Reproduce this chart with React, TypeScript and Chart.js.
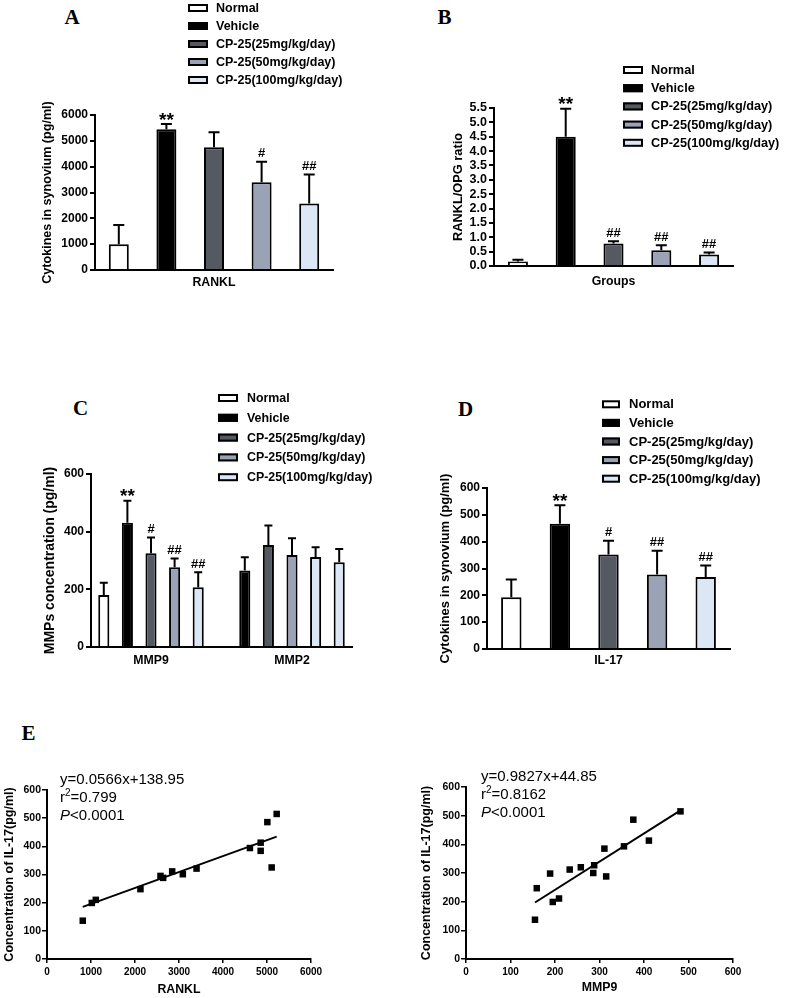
import React, { useEffect, useRef } from "react";
import { Chart, registerables } from "chart.js";

Chart.register(...registerables);

const PAGE_W = 787;
const PAGE_H = 998;
const SANS = "'Liberation Sans', Arial, Helvetica, sans-serif";
const SERIF = "'Liberation Serif', 'Times New Roman', serif";
Chart.defaults.font.family = SANS;
Chart.defaults.color = "#000";

// ---------- shared groups ----------
const groups = ["Normal", "Vehicle", "CP-25(25mg/kg/day)", "CP-25(50mg/kg/day)", "CP-25(100mg/kg/day)"];
const groupColors = ["#ffffff", "#000000", "#545962", "#9aa3b5", "#dce7f5"];

// ---------- Panel A: RANKL ----------
const ranklMean = [1000, 5450, 4750, 3400, 2570];
const ranklSD = [740, 200, 580, 790, 1130];
const ranklSig = ["", "**", "", "#", "##"];

// ---------- Panel B: RANKL/OPG ratio ----------
const ratioMean = [0.16, 4.5, 0.78, 0.55, 0.4];
const ratioSD = [0.06, 0.97, 0.08, 0.17, 0.07];
const ratioSig = ["", "**", "##", "##", "##"];

// ---------- Panel C: MMPs ----------
const mmpLabels = ["MMP9", "MMP2"];
const mmpNormal = [180, 265];
const mmpNormalSD = [43, 46];
const mmpVehicle = [431, 354];
const mmpVehicleSD = [76, 67];
const mmp25 = [325, 319];
const mmp25SD = [55, 58];
const mmp50 = [277, 312];
const mmp50SD = [30, 34];
const mmp100 = [207, 294];
const mmp100SD = [52, 46];
const mmp9Sig = ["", "**", "#", "##", "##"];
const mmp2Sig = ["", "", "", "", ""];
// fill colours per category (MMP9, MMP2) as drawn in the figure
const mmpColors = [
  ["#ffffff", "#000000"],
  ["#000000", "#545962"],
  ["#545962", "#9aa3b5"],
  ["#9aa3b5", "#dce7f5"],
  ["#dce7f5", "#dce7f5"],
];

// ---------- Panel D: IL-17 ----------
const il17Mean = [193, 467, 352, 278, 268];
const il17SD = [66, 69, 51, 88, 43];
const il17Sig = ["", "**", "#", "##", "##"];

// ---------- Panel E: correlations ----------
const eRanklX = [813, 1018, 1109, 2124, 2579, 2640, 2845, 3087, 3399, 4612, 4856, 4856, 5008, 5106, 5220];
const eRanklY = [136, 199, 210, 248, 295, 288, 311, 301, 321, 394, 413, 384, 486, 325, 515];
const eMmp9X = [155, 159, 189, 195, 209, 233, 258, 286, 288, 311, 315, 355, 376, 411, 482];
const eMmp9Y = [137, 247, 298, 199, 211, 312, 320, 300, 327, 385, 288, 393, 486, 413, 515];
const fitRanklSlope = 0.0566;
const fitRanklIntercept = 138.95;
const fitRanklR2 = "0.799";
const fitMmp9Slope = 0.9827;
const fitMmp9Intercept = 44.85;
const fitMmp9R2 = "0.8162";
const pText = "<0.0001";

// ---------- plugins ----------
function errorBarsPlugin(cap: number) {
  return {
    id: "errorBars",
    afterDatasetsDraw(chart: any) {
      const ctx = chart.ctx;
      const yScale = chart.scales.y;
      chart.data.datasets.forEach((ds: any, di: number) => {
        const meta = chart.getDatasetMeta(di);
        if (!ds.sd) return;
        meta.data.forEach((el: any, j: number) => {
          const raw = ds.data[j];
          const v = typeof raw === "object" ? raw.y : raw;
          const top = yScale.getPixelForValue(v + ds.sd[j]);
          const x = el.x;
          ctx.save();
          ctx.strokeStyle = "#000";
          ctx.lineWidth = 2;
          ctx.beginPath();
          ctx.moveTo(x, el.y);
          ctx.lineTo(x, top);
          ctx.moveTo(x - cap / 2, top);
          ctx.lineTo(x + cap / 2, top);
          ctx.stroke();
          const s = ds.sig ? ds.sig[j] : "";
          if (s) {
            const star = s.indexOf("*") >= 0;
            const size = star ? 19 : 13;
            ctx.font = `bold ${size}px ${SANS}`;
            ctx.fillStyle = "#000";
            ctx.textAlign = "center";
            ctx.textBaseline = "alphabetic";
            const m = ctx.measureText(s);
            const center = top - (star ? 8 : 9);
            const base = center + (m.actualBoundingBoxAscent - m.actualBoundingBoxDescent) / 2;
            ctx.fillText(s, x, base);
          }
          ctx.restore();
        });
      });
    },
  };
}

function legendPlugin(o: { x: number; textX: number; y0: number; dy: number; w: number; h: number; size: number }) {
  return {
    id: "boxLegend",
    afterDraw(chart: any) {
      const ctx = chart.ctx;
      ctx.save();
      ctx.font = `bold ${o.size}px ${SANS}`;
      ctx.textBaseline = "middle";
      ctx.textAlign = "left";
      chart.data.datasets.forEach((ds: any, i: number) => {
        const y = o.y0 + i * o.dy;
        const bg = Array.isArray(ds.backgroundColor) ? ds.backgroundColor[0] : ds.backgroundColor;
        ctx.fillStyle = bg;
        ctx.fillRect(o.x, y - o.h / 2, o.w, o.h);
        ctx.strokeStyle = "#000";
        ctx.lineWidth = 2;
        ctx.strokeRect(o.x + 1, y - o.h / 2 + 1, o.w - 2, o.h - 2);
        ctx.fillStyle = "#000";
        ctx.fillText(ds.label, o.textX, y + 0.5);
      });
      ctx.restore();
    },
  };
}

function yTitlePlugin(text: string, x: number, size: number) {
  return {
    id: "yTitle",
    afterDraw(chart: any) {
      const { ctx, chartArea } = chart;
      ctx.save();
      ctx.translate(x, (chartArea.top + chartArea.bottom) / 2);
      ctx.rotate(-Math.PI / 2);
      ctx.font = `bold ${size}px ${SANS}`;
      ctx.fillStyle = "#000";
      ctx.textAlign = "center";
      ctx.textBaseline = "middle";
      ctx.fillText(text, 0, 0);
      ctx.restore();
    },
  };
}

type Seg = { t: string; sup?: boolean; italic?: boolean };
function equationPlugin(lines: Seg[][], dx: number, dy0: number, lineGap: number) {
  return {
    id: "equation",
    afterDraw(chart: any) {
      const { ctx, chartArea } = chart;
      ctx.save();
      ctx.fillStyle = "#000";
      ctx.textAlign = "left";
      ctx.textBaseline = "middle";
      lines.forEach((segs, i) => {
        let x = chartArea.left + dx;
        const y = chartArea.top + dy0 + i * lineGap;
        segs.forEach((s) => {
          ctx.font = `${s.italic ? "italic " : ""}${s.sup ? 10 : 15}px ${SANS}`;
          ctx.fillText(s.t, x, s.sup ? y - 5 : y);
          x += ctx.measureText(s.t).width;
        });
      });
      ctx.restore();
    },
  };
}

// ---------- chart builders ----------
type Box = { L: number; T: number; R: number; B: number };

function yAxis(max: number, step: number, decimals: number, size: number, tickLen: number, pad: number, lw: number) {
  return {
    min: 0,
    max,
    ticks: {
      stepSize: step,
      autoSkip: false,
      color: "#000",
      font: { size, weight: "bold" },
      padding: pad,
      callback: (v: any) => Number(v).toFixed(decimals),
    },
    grid: { drawOnChartArea: false, drawTicks: true, tickLength: tickLen, color: "#000", lineWidth: lw },
    border: { display: true, color: "#000", width: 2 },
    afterFit: (s: any) => {
      s.width = 40;
    },
  };
}

function groupBarConfig(
  box: Box,
  xLabel: string,
  mean: number[],
  sd: number[],
  sig: string[],
  yMax: number,
  yStep: number,
  yDec: number,
  tickSize: number,
  xPad: number,
  yTitle: string,
  yTitleX: number,
  yTitleSize: number,
  legend: any
) {
  const yW = 40;
  const xH = 30;
  return {
    type: "bar",
    data: {
      labels: [xLabel],
      datasets: groups.map((g, i) => ({
        label: g,
        data: [mean[i]],
        sd: [sd[i]],
        sig: [sig[i]],
        backgroundColor: groupColors[i],
        borderColor: "#000",
        borderWidth: 2,
        categoryPercentage: 1,
        barPercentage: 0.42,
      })),
    },
    options: {
      responsive: false,
      animation: false,
      events: [],
      layout: { padding: { left: box.L - yW, top: box.T, right: PAGE_W - box.R, bottom: PAGE_H - box.B - xH } },
      plugins: { legend: { display: false }, tooltip: { enabled: false } },
      scales: {
        x: {
          grid: { display: false, drawTicks: false },
          border: { display: true, color: "#000", width: 2 },
          ticks: { color: "#000", font: { size: 12.3, weight: "bold" }, padding: xPad, maxRotation: 0 },
          afterFit: (s: any) => {
            s.height = xH;
          },
        },
        y: yAxis(yMax, yStep, yDec, tickSize, 5, 2, 2),
      },
    },
    plugins: [errorBarsPlugin(11), legendPlugin(legend), yTitlePlugin(yTitle, yTitleX, yTitleSize)],
  };
}

function mmpConfig() {
  const box: Box = { L: 91, T: 474, R: 352, B: 647 };
  const yW = 40;
  const xH = 30;
  const means = [mmpNormal, mmpVehicle, mmp25, mmp50, mmp100];
  const sds = [mmpNormalSD, mmpVehicleSD, mmp25SD, mmp50SD, mmp100SD];
  return {
    type: "bar",
    data: {
      datasets: groups.map((g, i) => ({
        label: g,
        data: mmpLabels.map((_, k) => ({ x: k, y: means[i][k] })),
        sd: sds[i],
        sig: [mmp9Sig[i], mmp2Sig[i]],
        backgroundColor: mmpColors[i],
        borderColor: "#000",
        borderWidth: 2,
        categoryPercentage: 0.837,
        barPercentage: 0.47,
      })),
    },
    options: {
      responsive: false,
      animation: false,
      events: [],
      layout: { padding: { left: box.L - yW, top: box.T, right: PAGE_W - box.R, bottom: PAGE_H - box.B - xH } },
      plugins: { legend: { display: false }, tooltip: { enabled: false } },
      scales: {
        x: {
          type: "linear",
          min: -0.4255,
          max: 1.4255,
          offset: false,
          afterBuildTicks: (s: any) => {
            s.ticks = mmpLabels.map((_, i) => ({ value: i }));
          },
          grid: { display: false, drawTicks: false },
          border: { display: true, color: "#000", width: 2 },
          ticks: {
            color: "#000",
            font: { size: 12.3, weight: "bold" },
            padding: 6,
            maxRotation: 0,
            autoSkip: false,
            callback: (v: any) => mmpLabels[Number(v)] ?? "",
          },
          afterFit: (s: any) => {
            s.height = xH;
          },
        },
        y: yAxis(600, 200, 0, 12, 5, 2, 2),
      },
    },
    plugins: [
      errorBarsPlugin(8),
      legendPlugin({ x: 218, textX: 247, y0: 398, dy: 19.8, w: 20, h: 8, size: 12.4 }),
      yTitlePlugin("MMPs concentration (pg/ml)", 50, 14),
    ],
  };
}

function scatterConfig(
  box: Box,
  xs: number[],
  ys: number[],
  slope: number,
  intercept: number,
  r2: string,
  xMax: number,
  xStep: number,
  xTitle: string,
  xTitleY: number,
  yTitleX: number,
  eqDx: number,
  eqDy: number
) {
  const yW = 40;
  const xH = xTitleY - box.B + 7.2;
  const minX = Math.min(...xs);
  const maxX = Math.max(...xs);
  const eq = `y=${slope}x+${intercept}`;
  return {
    type: "scatter",
    data: {
      datasets: [
        {
          label: "data",
          data: xs.map((x, i) => ({ x, y: ys[i] })),
          pointStyle: "rect",
          pointRadius: 4.6,
          backgroundColor: "#000",
          borderWidth: 0,
        },
        {
          type: "line",
          label: "fit",
          data: [
            { x: minX, y: slope * minX + intercept },
            { x: maxX, y: slope * maxX + intercept },
          ],
          borderColor: "#000",
          borderWidth: 2,
          pointRadius: 0,
          fill: false,
          showLine: true,
        },
      ],
    },
    options: {
      responsive: false,
      animation: false,
      events: [],
      layout: { padding: { left: box.L - yW, top: box.T, right: PAGE_W - box.R, bottom: PAGE_H - box.B - xH } },
      plugins: { legend: { display: false }, tooltip: { enabled: false } },
      scales: {
        x: {
          type: "linear",
          min: 0,
          max: xMax,
          ticks: {
            stepSize: xStep,
            autoSkip: false,
            color: "#000",
            font: { size: 10, weight: "bold" },
            padding: 3,
            callback: (v: any) => String(v),
          },
          grid: { drawOnChartArea: false, drawTicks: true, tickLength: 4, color: "#000", lineWidth: 1.5 },
          border: { display: true, color: "#000", width: 2 },
          title: { display: true, text: xTitle, color: "#000", font: { size: 12.3, weight: "bold" }, padding: 0 },
          afterFit: (s: any) => {
            s.height = xH;
          },
        },
        y: {
          ...yAxis(600, 100, 0, 10.5, 5, 1, 1.5),
        },
      },
    },
    plugins: [
      yTitlePlugin("Concentration of IL-17(pg/ml)", yTitleX, 12.5),
      equationPlugin(
        [[{ t: eq }], [{ t: "r" }, { t: "2", sup: true }, { t: "=" + r2 }], [{ t: "P", italic: true }, { t: pText }]],
        eqDx,
        eqDy,
        18
      ),
    ],
  };
}

const makers: (() => any)[] = [
  () =>
    groupBarConfig(
      { L: 95, T: 115, R: 333, B: 270 },
      "RANKL",
      ranklMean,
      ranklSD,
      ranklSig,
      6000,
      1000,
      0,
      12,
      5,
      "Cytokines in synovium (pg/ml)",
      48,
      12.6,
      { x: 188, textX: 216, y0: 8, dy: 18, w: 20, h: 8, size: 12.5 }
    ),
  () =>
    groupBarConfig(
      { L: 494, T: 108, R: 733, B: 266 },
      "Groups",
      ratioMean,
      ratioSD,
      ratioSig,
      5.5,
      0.5,
      1,
      12.5,
      8,
      "RANKL/OPG ratio",
      458,
      12.8,
      { x: 623, textX: 651, y0: 70, dy: 18.2, w: 20, h: 8, size: 12.7 }
    ),
  () => mmpConfig(),
  () =>
    groupBarConfig(
      { L: 487, T: 488, R: 730, B: 649 },
      "IL-17",
      il17Mean,
      il17SD,
      il17Sig,
      600,
      100,
      0,
      12,
      4,
      "Cytokines in synovium (pg/ml)",
      445,
      13.1,
      { x: 602, textX: 629, y0: 404.3, dy: 18.6, w: 18, h: 8, size: 13 }
    ),
  () =>
    scatterConfig(
      { L: 47, T: 790, R: 311, B: 959 },
      eRanklX,
      eRanklY,
      fitRanklSlope,
      fitRanklIntercept,
      fitRanklR2,
      6000,
      1000,
      "RANKL",
      990,
      10,
      13,
      -10
    ),
  () =>
    scatterConfig(
      { L: 466, T: 787, R: 733, B: 959 },
      eMmp9X,
      eMmp9Y,
      fitMmp9Slope,
      fitMmp9Intercept,
      fitMmp9R2,
      600,
      100,
      "MMP9",
      988,
      427,
      15,
      -10
    ),
];

function ChartCanvas({ make }: { make: () => any }) {
  const ref = useRef<HTMLCanvasElement>(null);
  useEffect(() => {
    if (!ref.current) return;
    const chart = new Chart(ref.current, make());
    return () => chart.destroy();
  }, []);
  return (
    <canvas
      ref={ref}
      width={PAGE_W}
      height={PAGE_H}
      style={{ position: "absolute", left: 0, top: 0, width: PAGE_W, height: PAGE_H }}
    />
  );
}

const panelLetters = [
  { t: "A", x: 72, y: 16.5 },
  { t: "B", x: 444.5, y: 16.5 },
  { t: "C", x: 80.5, y: 407.5 },
  { t: "D", x: 465.5, y: 408.5 },
  { t: "E", x: 28.5, y: 732.5 },
];

export default function App() {
  return (
    <div
      style={{
        position: "absolute",
        left: 0,
        top: 0,
        width: PAGE_W,
        height: PAGE_H,
        background: "#fff",
        overflow: "hidden",
      }}
    >
      {panelLetters.map((p) => (
        <div
          key={p.t}
          style={{
            position: "absolute",
            left: p.x,
            top: p.y,
            transform: "translate(-50%, -50%)",
            font: `bold 21px ${SERIF}`,
            lineHeight: 1,
            color: "#000",
          }}
        >
          {p.t}
        </div>
      ))}
      {makers.map((m, i) => (
        <ChartCanvas key={i} make={m} />
      ))}
    </div>
  );
}
